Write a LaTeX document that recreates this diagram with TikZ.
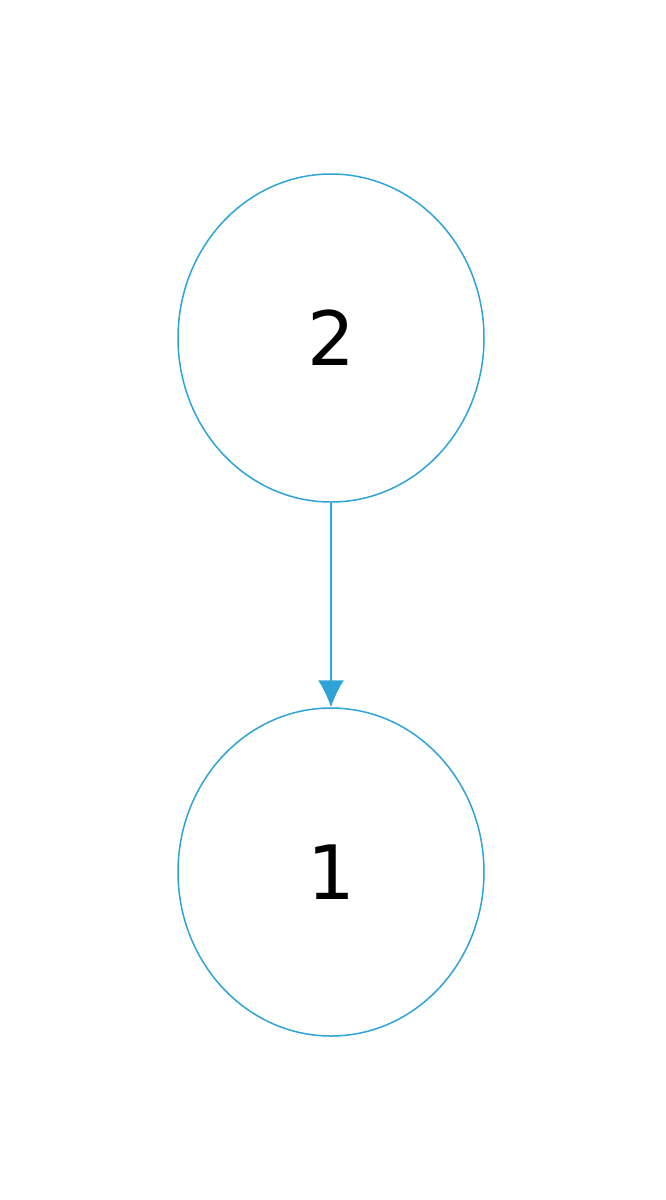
\documentclass[tikz,border=0pt]{standalone}
\usepackage{fontspec}
\setmainfont{DejaVu Sans}
\usepackage{tikz}
\usetikzlibrary{arrows.meta,positioning,shapes.geometric}
\usepackage{xcolor}
\definecolor{nodeblue}{HTML}{2EA3D5}

\begin{document}
\begin{tikzpicture}[x=1pt,y=1pt,>=Latex,
  state/.style={ellipse,draw=nodeblue,line width=1.5pt,minimum width=306pt,minimum height=328pt,inner sep=0pt,font=\fontsize{75}{90}\selectfont}]
  % Canvas
  \useasboundingbox (0,0) rectangle (665,-1200);
  % States
  \node[state] (two) at (331,-338) {2};
  \node[state] (one) at (331,-872) {1};
  % Transition
  \draw[->,nodeblue,line width=1.5pt,>={Latex[length=27pt,width=26pt]}] (two) -- (one);
\end{tikzpicture}
\end{document}
